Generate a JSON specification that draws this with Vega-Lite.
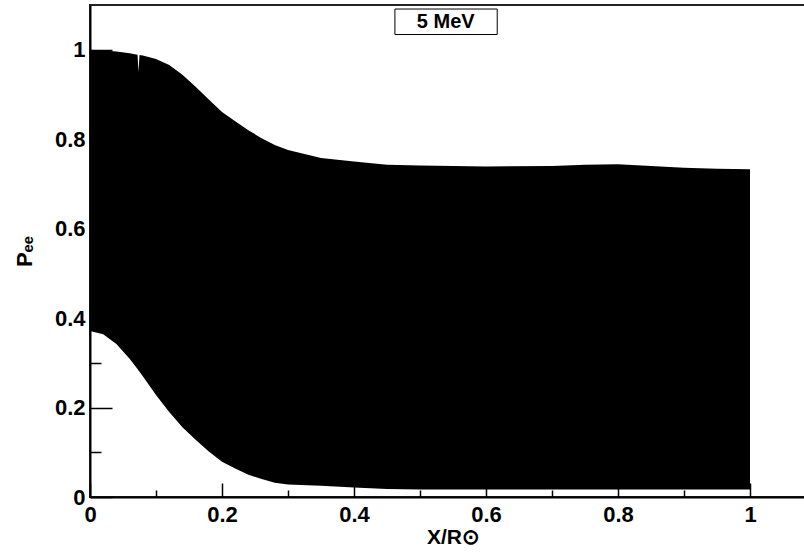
{
  "$schema": "https://vega.github.io/schema/vega-lite/v6.json",
  "autosize": {"type": "none"},
  "padding": {"left": 90, "top": 5, "right": 0, "bottom": 55},
  "width": 726,
  "height": 492,
  "background": "white",
  "config": {
    "view": {"stroke": "#222", "strokeWidth": 2},
    "font": "Liberation Sans"
  },
  "datasets": {
    "band": [
      {"x": 0.0, "upper": 1.0, "lower": 0.371},
      {"x": 0.02, "upper": 0.998, "lower": 0.364},
      {"x": 0.04, "upper": 0.996, "lower": 0.342},
      {"x": 0.06, "upper": 0.992, "lower": 0.309},
      {"x": 0.072, "upper": 0.989, "lower": 0.286},
      {"x": 0.0735, "upper": 0.95, "lower": 0.283},
      {"x": 0.075, "upper": 0.988, "lower": 0.280},
      {"x": 0.08, "upper": 0.987, "lower": 0.270},
      {"x": 0.1, "upper": 0.979, "lower": 0.228},
      {"x": 0.12, "upper": 0.966, "lower": 0.190},
      {"x": 0.14, "upper": 0.944, "lower": 0.156},
      {"x": 0.16, "upper": 0.917, "lower": 0.128},
      {"x": 0.18, "upper": 0.889, "lower": 0.102},
      {"x": 0.2, "upper": 0.861, "lower": 0.079},
      {"x": 0.22, "upper": 0.840, "lower": 0.064},
      {"x": 0.24, "upper": 0.820, "lower": 0.050},
      {"x": 0.26, "upper": 0.802, "lower": 0.040},
      {"x": 0.28, "upper": 0.787, "lower": 0.032},
      {"x": 0.3, "upper": 0.776, "lower": 0.028},
      {"x": 0.35, "upper": 0.758, "lower": 0.025},
      {"x": 0.4, "upper": 0.750, "lower": 0.021},
      {"x": 0.45, "upper": 0.743, "lower": 0.018},
      {"x": 0.5, "upper": 0.741, "lower": 0.017},
      {"x": 0.6, "upper": 0.739, "lower": 0.017},
      {"x": 0.7, "upper": 0.740, "lower": 0.017},
      {"x": 0.75, "upper": 0.743, "lower": 0.017},
      {"x": 0.8, "upper": 0.744, "lower": 0.017},
      {"x": 0.85, "upper": 0.740, "lower": 0.017},
      {"x": 0.9, "upper": 0.736, "lower": 0.017},
      {"x": 0.95, "upper": 0.734, "lower": 0.017},
      {"x": 1.0, "upper": 0.733, "lower": 0.017}
    ],
    "label": [
      {"x0": 0.462, "x1": 0.617, "y0": 1.034, "y1": 1.091, "xc": 0.539, "yc": 1.0625, "text": "5 MeV"}
    ]
  },
  "layer": [
    {
      "data": {"name": "band"},
      "mark": {"type": "area", "color": "black", "interpolate": "linear"},
      "encoding": {
        "x": {
          "field": "x", "type": "quantitative",
          "scale": {"domain": [0, 1.1], "nice": false, "zero": false},
          "axis": {
            "values": [0, 0.05, 0.1, 0.15, 0.2, 0.25, 0.3, 0.35, 0.4, 0.45, 0.5, 0.55, 0.6, 0.65, 0.7, 0.75, 0.8, 0.85, 0.9, 0.95, 1.0, 1.05, 1.1],
            "labelExpr": "round(datum.value*20)%4==0 ? format(datum.value,'~g') : ''",
            "tickSize": {"condition": {"test": "round(datum.value*20)%4==0", "value": -14}, "value": -7},
            "tickColor": "black", "tickWidth": 1.5,
            "domainColor": "black", "domainWidth": 2,
            "grid": false,
            "labelFont": "Liberation Sans", "labelFontWeight": "bold", "labelFontSize": 22, "labelColor": "black",
            "labelPadding": 21, "labelOverlap": false, "labelFlush": false,
            "title": "X/R⊙",
            "titleFont": "Liberation Sans", "titleFontWeight": "bold", "titleFontSize": 21, "titleColor": "black",
            "titlePadding": -6,
            "zindex": 1
          }
        },
        "y": {
          "field": "upper", "type": "quantitative",
          "scale": {"domain": [0, 1.1], "nice": false, "zero": false},
          "axis": {
            "values": [0, 0.05, 0.1, 0.15, 0.2, 0.25, 0.3, 0.35, 0.4, 0.45, 0.5, 0.55, 0.6, 0.65, 0.7, 0.75, 0.8, 0.85, 0.9, 0.95, 1.0, 1.05],
            "labelExpr": "round(datum.value*20)%4==0 ? format(datum.value,'~g') : ''",
            "tickSize": {"condition": {"test": "round(datum.value*20)%4==0", "value": -22}, "value": -11},
            "tickColor": "black", "tickWidth": 1.5,
            "domainColor": "black", "domainWidth": 2,
            "grid": false,
            "labelFont": "Liberation Sans", "labelFontWeight": "bold", "labelFontSize": 22, "labelColor": "black",
            "labelPadding": 27, "labelOverlap": false, "labelFlush": false,
            "title": "Pₑₑ",
            "titleFont": "Liberation Sans", "titleFontWeight": "bold", "titleFontSize": 22, "titleColor": "black",
            "titlePadding": 18,
            "zindex": 1
          }
        },
        "y2": {"field": "lower"}
      }
    },
    {
      "data": {"name": "label"},
      "mark": {"type": "rect", "fill": "white", "stroke": "black", "strokeWidth": 1},
      "encoding": {
        "x": {"field": "x0", "type": "quantitative"},
        "x2": {"field": "x1"},
        "y": {"field": "y0", "type": "quantitative"},
        "y2": {"field": "y1"}
      }
    },
    {
      "data": {"name": "label"},
      "mark": {"type": "text", "font": "Liberation Sans", "fontWeight": "bold", "fontSize": 20, "color": "black", "baseline": "middle", "align": "center"},
      "encoding": {
        "x": {"field": "xc", "type": "quantitative"},
        "y": {"field": "yc", "type": "quantitative"},
        "text": {"field": "text"}
      }
    }
  ]
}
